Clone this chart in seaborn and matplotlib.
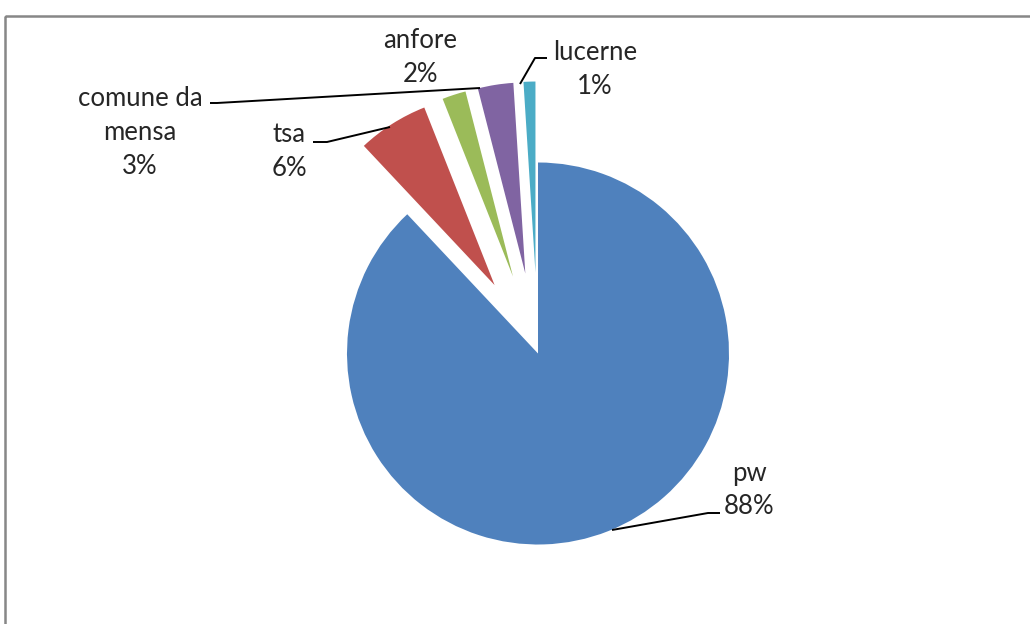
import matplotlib
matplotlib.use("Agg")
import matplotlib.pyplot as plt
import seaborn as sns
from matplotlib.patches import Rectangle

# Share of finds by ware class (percent)
categories = ["pw", "tsa", "anfore", "comune da mensa", "lucerne"]
shares = [88, 6, 2, 3, 1]
label_names = ["pw", "tsa", "anfore", "comune da\nmensa", "lucerne"]
slice_colors = ["#4F81BD", "#C0504D", "#9BBB59", "#8064A2", "#4BACC6"]

sns.set_theme(style="white")
plt.rcParams["font.family"] = ["Lato", "DejaVu Sans"]

W, H = 1030, 624
fig = plt.figure(figsize=(W / 100, H / 100), dpi=100)
ax = fig.add_axes([0, 0, 1, 1])

palette = sns.color_palette(slice_colors)
radius = 191
center = (538, 353.5)
# explode offsets are in data units (pixels here)
explode = [0] + [81] * (len(shares) - 1)

# y axis is inverted below, so start at -90 (top) and run counterclockwise
# in data space, which reads clockwise on screen
ax.pie(shares, colors=palette, startangle=-90, counterclock=True,
       explode=explode, radius=radius, center=center, frame=True,
       wedgeprops=dict(linewidth=0))
ax.set_xlim(0, W)
ax.set_ylim(H, 0)
ax.set_aspect("equal")
ax.axis("off")

# data labels
text_color = "#262626"
fs = 18.5
label_pos = {
    "pw": (749, 490),
    "tsa": (289, 152),
    "anfore": (420, 58),
    "comune da mensa": (140, 133),
    "lucerne": (595, 69),
}
for cat, name, val in zip(categories, label_names, shares):
    x, y = label_pos[cat]
    ax.text(x, y, f"{name}\n{val}%", ha="center", va="center",
            fontsize=fs, color=text_color, linespacing=1.45)

# leader lines
leaders = {
    "pw": [(612, 530), (708, 513), (720, 513)],
    "tsa": [(313, 142), (327, 142), (390, 127)],
    "comune da mensa": [(210, 103), (217, 103), (480, 88)],
    "lucerne": [(547, 58), (535, 58), (520, 84)],
}
for pts in leaders.values():
    xs, ys = zip(*pts)
    ax.plot(xs, ys, color="black", lw=1.4, solid_capstyle="butt")

# chart area border
ax.add_patch(Rectangle((4.5, 15.5), 1100, 700, fill=False,
                       edgecolor="#878787", lw=1.8, clip_on=False))

fig.savefig("out.png", dpi=100)
